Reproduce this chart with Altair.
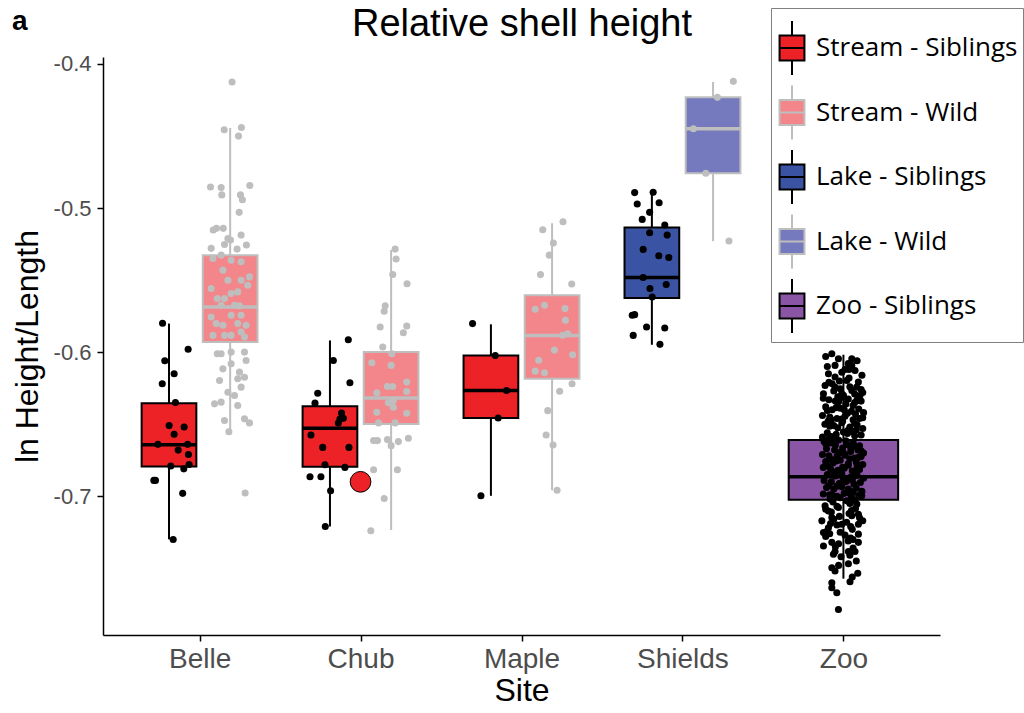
import json
import altair as alt
import pandas as pd

# ---------------- categories & styling ----------------
sites = ["Belle", "Chub", "Maple", "Shields", "Zoo"]
groups = ["Stream - Siblings", "Stream - Wild", "Lake - Siblings", "Lake - Wild", "Zoo - Siblings"]
fill_colors = ["#EC2227", "#F3868A", "#3B53A3", "#7579BD", "#8A55A5"]
edge_colors = ["#000000", "#BEBEBE", "#000000", "#BEBEBE", "#000000"]
title_text = "Relative shell height"
panel_text = "a"

# ---------------- box summaries ----------------
box_site = ["Belle", "Belle", "Chub", "Chub", "Maple", "Maple", "Shields", "Shields", "Zoo"]
box_group = ["Stream - Siblings", "Stream - Wild", "Stream - Siblings", "Stream - Wild",
             "Stream - Siblings", "Stream - Wild", "Lake - Siblings", "Lake - Wild", "Zoo - Siblings"]
box_lower = [-0.7299, -0.6545, -0.7210, -0.7234, -0.6997, -0.6958, -0.5949, -0.5230, -0.7572]
box_q1 = [-0.6793, -0.5930, -0.6795, -0.6498, -0.6457, -0.6185, -0.5624, -0.4759, -0.7025]
box_median = [-0.6642, -0.5686, -0.6528, -0.6319, -0.6267, -0.5884, -0.5482, -0.4450, -0.6865]
box_q3 = [-0.6354, -0.5327, -0.6375, -0.5999, -0.6023, -0.5605, -0.5136, -0.4232, -0.6610]
box_upper = [-0.5802, -0.4445, -0.5919, -0.5292, -0.5807, -0.5106, -0.4882, -0.4125, -0.6018]

# ---------------- individual points (value, jitter) ----------------
belle_sib_y = [-0.580, -0.598, -0.606, -0.615, -0.622, -0.635,
               -0.651, -0.652, -0.657, -0.664, -0.668, -0.664,
               -0.671, -0.679, -0.681, -0.678, -0.689, -0.689,
               -0.698, -0.730]
belle_sib_j = [-0.040, 0.119, -0.026, 0.032, -0.042, 0.040,
               0.001, 0.094, 0.032, -0.069, 0.057, 0.116,
               0.121, 0.011, 0.092, 0.125, -0.084, -0.094,
               0.085, 0.026]

belle_wild_y = [-0.4125, -0.4457, -0.4441, -0.4501, -0.4854, -0.4858,
                -0.4909, -0.4844, -0.4909, -0.4942, -0.5030, -0.5153,
                -0.5141, -0.5141, -0.5211, -0.5188, -0.5257, -0.5222,
                -0.5280, -0.5253, -0.5285, -0.5350, -0.5327, -0.5362,
                -0.5373, -0.5431, -0.5478, -0.5501, -0.5501, -0.5559,
                -0.5536, -0.5628, -0.5628, -0.5594, -0.5582, -0.5675,
                -0.5675, -0.5679, -0.5756, -0.5744, -0.5744, -0.5802,
                -0.5814, -0.5802, -0.5814, -0.5884, -0.5884, -0.5884,
                -0.5860, -0.5895, -0.6011, -0.6011, -0.6000, -0.6000,
                -0.6058, -0.6116, -0.6081, -0.6139, -0.6174, -0.6197,
                -0.6185, -0.6243, -0.6278, -0.6301, -0.6359, -0.6347,
                -0.6371, -0.6475, -0.6463, -0.6491, -0.6552, -0.6978]
belle_wild_j = [0.012, -0.037, 0.070, 0.052, -0.122, -0.056,
                -0.052, 0.122, 0.064, 0.076, 0.056, -0.105,
                -0.085, -0.043, -0.014, 0.068, 0.101, 0.002,
                -0.118, -0.035, 0.043, -0.107, -0.056, 0.006,
                0.068, -0.045, 0.120, 0.068, -0.014, -0.118,
                0.109, -0.080, -0.035, 0.006, 0.047, -0.056,
                0.027, 0.058, -0.118, 0.006, 0.068, -0.087,
                -0.045, 0.047, 0.099, -0.107, -0.035, 0.006,
                0.068, 0.089, -0.080, -0.056, 0.006, 0.089,
                0.099, -0.045, 0.006, 0.058, 0.089, -0.066,
                0.047, 0.068, -0.014, 0.027, -0.097, -0.056,
                0.047, -0.035, 0.089, 0.120, -0.008, 0.093]

chub_sib_y = [-0.5914, -0.6058, -0.6213, -0.6285, -0.6354, -0.6422,
              -0.6464, -0.6459, -0.6492, -0.6575, -0.6661, -0.6661,
              -0.6781, -0.6800, -0.6865, -0.6865, -0.6962, -0.7210]
chub_sib_j = [0.114, 0.021, 0.124, -0.076, -0.093, 0.072,
              0.062, 0.083, 0.052, -0.118, -0.045, 0.118,
              -0.031, 0.093, -0.124, -0.056, 0.004, -0.029]

chub_wild_y = [-0.5285, -0.5354, -0.5461, -0.5526, -0.5679, -0.5716,
               -0.5826, -0.5819, -0.5865, -0.5965, -0.6011, -0.6074,
               -0.6092, -0.6208, -0.6238, -0.6238, -0.6282, -0.6273,
               -0.6336, -0.6352, -0.6417, -0.6382, -0.6424, -0.6491,
               -0.6491, -0.6614, -0.6614, -0.6607, -0.6649, -0.6621,
               -0.6598, -0.6816, -0.6816, -0.7016, -0.7240]
chub_wild_j = [0.025, 0.031, 0.010, 0.099, -0.037, -0.043,
               -0.068, 0.097, 0.076, -0.052, 0.004, -0.120,
               0.000, 0.097, -0.023, 0.010, -0.089, 0.097,
               0.014, -0.017, -0.089, 0.014, 0.097, -0.078,
               0.025, -0.109, -0.085, -0.023, 0.000, 0.045,
               0.107, -0.109, 0.039, -0.043, -0.126]

maple_sib_y = [-0.5802, -0.6023, -0.6266, -0.6457, -0.6997]
maple_sib_j = [-0.114, 0.027, 0.097, 0.045, -0.062]

maple_wild_y = [-0.5095, -0.5151, -0.5243, -0.5327, -0.5462, -0.5527,
                -0.5702, -0.5675, -0.5698, -0.5779, -0.5883, -0.5872,
                -0.5986, -0.6018, -0.6057, -0.6132, -0.6143, -0.6220,
                -0.6271, -0.6406, -0.6575, -0.6645, -0.6958]
maple_wild_j = [0.068, -0.058, 0.008, -0.017, -0.072, 0.122,
                -0.105, -0.047, 0.080, 0.083, 0.066, 0.097,
                0.014, 0.128, -0.083, -0.105, -0.047, 0.124,
                0.047, -0.027, -0.037, 0.006, 0.031]

shields_sib_y = [-0.4893, -0.4891, -0.4972, -0.4963, -0.5030, -0.5079,
                 -0.5118, -0.5171, -0.5188, -0.5287, -0.5331, -0.5343,
                 -0.5482, -0.5531, -0.5559, -0.5617, -0.5744, -0.5740,
                 -0.5826, -0.5833, -0.5884, -0.5946]
shields_sib_j = [-0.107, 0.008, -0.091, 0.045, -0.014, -0.060,
                 0.080, -0.014, 0.095, -0.054, 0.043, 0.105,
                 -0.054, 0.089, -0.012, 0.002, -0.122, -0.107,
                 -0.033, 0.080, -0.116, 0.050]

shields_wild_y = [-0.4121, -0.4232, -0.4450, -0.4759, -0.5229]
shields_wild_j = [0.126, 0.027, -0.122, -0.045, 0.099]

zoo_y = [-0.6011, -0.6046, -0.6046, -0.6092, -0.6092, -0.6127,
         -0.6173, -0.6197, -0.6208, -0.6231, -0.6243, -0.6243,
         -0.6266, -0.6289, -0.6289, -0.6301, -0.6150, -0.6120,
         -0.6255, -0.6280,
         -0.6320, -0.6330, -0.6340, -0.6325, -0.6350, -0.6340,
         -0.6380, -0.6400, -0.6390, -0.6410, -0.6395, -0.6420,
         -0.6440, -0.6450, -0.6460, -0.6445, -0.6470, -0.6460,
         -0.6500, -0.6510, -0.6490, -0.6520, -0.6505, -0.6530,
         -0.6560, -0.6570, -0.6555, -0.6580, -0.6575, -0.6590,
         -0.6620, -0.6630, -0.6610, -0.6640, -0.6625, -0.6650,
         -0.6670, -0.6680, -0.6665, -0.6690, -0.6680, -0.6700,
         -0.6710, -0.6720, -0.6725, -0.6715, -0.6735, -0.6725,
         -0.6760, -0.6770, -0.6750, -0.6775, -0.6765, -0.6780,
         -0.6800, -0.6810, -0.6820, -0.6805, -0.6825, -0.6815,
         -0.6850, -0.6860, -0.6845, -0.6870, -0.6855, -0.6875,
         -0.6890, -0.6900, -0.6910, -0.6895, -0.6915, -0.6905,
         -0.6940, -0.6950, -0.6935, -0.6960, -0.6945, -0.6965,
         -0.6985, -0.6990, -0.7000, -0.6980, -0.7005, -0.6995,
         -0.7345, -0.7320, -0.7320, -0.7384, -0.7384, -0.7384,
         -0.7403, -0.7468, -0.7496, -0.7519, -0.7535, -0.7593,
         -0.7600, -0.7635, -0.7670, -0.7786, -0.7252, -0.7263,
         -0.7219, -0.7194, -0.7194, -0.7171, -0.7148, -0.7125,
         -0.7136, -0.7102, -0.7078, -0.7067, -0.7055, -0.7032,
         -0.7020, -0.6997,
         -0.7090, -0.7100, -0.7160, -0.7180, -0.7170, -0.7240,
         -0.7270, -0.7300, -0.7330,
         -0.6060, -0.6100, -0.6180, -0.6220, -0.6260, -0.6310,
         -0.6360, -0.6430, -0.6480, -0.6540, -0.6600, -0.6655,
         -0.6700, -0.6740, -0.6790, -0.6830, -0.6880, -0.6925,
         -0.6970, -0.7010, -0.7050, -0.7110, -0.7150, -0.7200,
         -0.7230, -0.7280, -0.7310, -0.7360, -0.7420, -0.7450,
         -0.6335, -0.6385, -0.6455, -0.6515, -0.6565, -0.6635,
         -0.6685, -0.6745, -0.6795, -0.6835, -0.6885, -0.6930,
         -0.6975, -0.7040, -0.7085, -0.7140, -0.7210, -0.7260,
         -0.6300, -0.6480,
         -0.6030, -0.6080, -0.6140, -0.6160, -0.6210, -0.6240,
         -0.6270, -0.6290, -0.6315, -0.6345, -0.6370, -0.6405,
         -0.6425, -0.6465, -0.6495, -0.6525, -0.6550, -0.6585,
         -0.6615, -0.6645, -0.6660, -0.6695, -0.6730, -0.6755,
         -0.6785, -0.6840, -0.6865, -0.6905, -0.6950, -0.6990,
         -0.7030, -0.7070, -0.7120, -0.7190, -0.7250, -0.7290,
         -0.7350, -0.7410, -0.7480, -0.7560, -0.6120, -0.6200,
         -0.6330, -0.6400, -0.6470, -0.6540, -0.6600, -0.6700,
         -0.6800, -0.6900]
zoo_j = [-0.072, -0.031, 0.052, 0.052, -0.052, 0.072,
         -0.052, 0.021, 0.093, -0.114, -0.052, 0.083,
         0.052, -0.124, -0.010, 0.103, -0.093, 0.010,
         -0.020, 0.120,
         -0.125, -0.090, -0.050, 0.030, 0.070, 0.110,
         -0.110, -0.070, -0.020, 0.050, 0.095, 0.125,
         -0.130, -0.085, -0.040, 0.010, 0.060, 0.100,
         -0.115, -0.060, -0.010, 0.040, 0.085, 0.120,
         -0.100, -0.045, 0.000, 0.070, 0.110, -0.130,
         -0.120, -0.080, -0.030, 0.020, 0.060, 0.100,
         -0.105, -0.055, -0.005, 0.045, 0.090, 0.125,
         -0.130, -0.090, -0.040, 0.010, 0.070, 0.110,
         -0.110, -0.065, -0.020, 0.030, 0.080, 0.120,
         -0.125, -0.080, -0.035, 0.005, 0.055, 0.100,
         -0.100, -0.050, -0.010, 0.040, 0.085, 0.125,
         -0.120, -0.075, -0.025, 0.020, 0.065, 0.105,
         -0.105, -0.060, -0.010, 0.035, 0.080, 0.115,
         -0.125, -0.085, -0.040, 0.005, 0.050, 0.095,
         -0.124, -0.072, 0.093, -0.052, 0.031, 0.072,
         -0.062, 0.031, -0.072, -0.052, 0.089, 0.041,
         -0.072, -0.072, -0.041, -0.031, -0.124, 0.093,
         -0.093, -0.010, 0.093, -0.134, -0.072, 0.093,
         0.052, -0.093, -0.031, -0.114, 0.083, 0.021,
         -0.083, 0.114,
         -0.110, 0.050, -0.060, 0.020, 0.120, -0.100,
         0.010, 0.060, -0.030,
         0.085, -0.100, 0.035, -0.070, 0.110, -0.035,
         0.015, 0.075, -0.095, 0.030, -0.060, 0.075,
         -0.015, 0.040, -0.100, 0.075, 0.000, -0.090,
         0.060, -0.020, 0.040, -0.075, 0.100, -0.040,
         0.055, -0.110, 0.030, 0.060, -0.015, 0.080,
         0.090, -0.045, 0.120, -0.085, 0.025, -0.110,
         0.110, -0.075, 0.085, -0.055, 0.055, -0.040,
         0.025, -0.065, 0.075, -0.025, 0.045, -0.085,
         0.000, -0.005,
         -0.110, 0.030, -0.010, 0.115, -0.090, 0.040,
         -0.060, 0.070, 0.000, -0.030, 0.060, -0.100,
         0.025, -0.010, 0.070, -0.035, 0.050, -0.075,
         0.015, -0.050, 0.045, -0.020, 0.095, -0.045,
         0.030, -0.060, 0.060, -0.005, 0.030, -0.070,
         0.070, -0.040, 0.035, -0.080, -0.020, 0.045,
         -0.050, 0.040, -0.030, 0.055, 0.035, -0.025,
         0.085, 0.005, -0.075, 0.080, -0.090, 0.000,
         -0.005, 0.010]

point_sets = [
    ("Belle", "Stream - Siblings", belle_sib_y, belle_sib_j),
    ("Belle", "Stream - Wild", belle_wild_y, belle_wild_j),
    ("Chub", "Stream - Siblings", chub_sib_y, chub_sib_j),
    ("Chub", "Stream - Wild", chub_wild_y, chub_wild_j),
    ("Maple", "Stream - Siblings", maple_sib_y, maple_sib_j),
    ("Maple", "Stream - Wild", maple_wild_y, maple_wild_j),
    ("Shields", "Lake - Siblings", shields_sib_y, shields_sib_j),
    ("Shields", "Lake - Wild", shields_wild_y, shields_wild_j),
    ("Zoo", "Zoo - Siblings", zoo_y, zoo_j),
]

outlier_site = ["Chub"]
outlier_value = [-0.690]

# ---------------- build tables ----------------
DODGE = 0.19
HALF_DODGED = 0.17
HALF_SINGLE = 0.34


def dodge_center(site, group):
    n = box_site.count(site)
    base = sites.index(site) + 1
    if n == 1:
        return base, HALF_SINGLE
    off = -DODGE if group.endswith("Siblings") else DODGE
    return base + off, HALF_DODGED


def edge_of(group):
    return edge_colors[groups.index(group)]


box_rows = []
for s, g, lo, q1, md, q3, hi in zip(box_site, box_group, box_lower, box_q1,
                                     box_median, box_q3, box_upper):
    c, h = dodge_center(s, g)
    box_rows.append(dict(site=s, group=g, x=c, xl=c - h, xr=c + h, lo=lo, q1=q1,
                         med=md, q3=q3, hi=hi, edge=edge_of(g)))
boxes = pd.DataFrame(box_rows)

pt_rows = []
for s, g, ys, js in point_sets:
    c, _ = dodge_center(s, g)
    col = "#000000" if g.endswith("Siblings") else "#BEBEBE"
    for y, j in zip(ys, js):
        pt_rows.append(dict(site=s, group=g, x=c + j, y=y, col=col))
points = pd.DataFrame(pt_rows)

outliers = pd.DataFrame(dict(x=[sites.index(s) + 1 for s in outlier_site], y=outlier_value))

# ---------------- scales ----------------
xscale = alt.Scale(domain=[0.4, 5.6], nice=False, zero=False)
yscale = alt.Scale(domain=[-0.7963, -0.3952], nice=False, zero=False)

label_expr = json.dumps(sites) + "[round(datum.value) - 1]"
xaxis = alt.Axis(values=[1, 2, 3, 4, 5], labelExpr=label_expr, title="Site",
                 grid=False, labelFontSize=28, titleFontSize=32, titlePadding=2,
                 labelPadding=4)
yaxis = alt.Axis(values=[-0.4, -0.5, -0.6, -0.7], labelExpr="toString(datum.value)",
                 title="ln Height/Length", grid=False, labelFontSize=22,
                 titleFontSize=32, titlePadding=9, labelPadding=6)

base_x = alt.X("x:Q", scale=xscale, axis=xaxis)

whiskers = alt.Chart(boxes).mark_rule(strokeWidth=2).encode(
    x=base_x,
    y=alt.Y("lo:Q", scale=yscale, axis=yaxis),
    y2="hi:Q",
    stroke=alt.Stroke("edge:N", scale=None),
)

# legend glyph: whisker + box + median (unit square is 30 px; glyph 54 px tall)
path = "M0,-1.8V-0.83M-0.83,-0.83H0.83V0.83H-0.83ZM-0.83,0H0.83M0,0.83V1.8"

bars = alt.Chart(boxes).mark_bar(strokeWidth=2, opacity=1).encode(
    x="xl:Q",
    x2="xr:Q",
    y="q1:Q",
    y2="q3:Q",
    fill=alt.Fill("group:N", scale=alt.Scale(domain=groups, range=fill_colors),
                  legend=alt.Legend(title=" ")),
    stroke=alt.Stroke("group:N", scale=alt.Scale(domain=groups, range=edge_colors),
                      legend=alt.Legend(title=" ")),
)

medians = alt.Chart(boxes).mark_rule(strokeWidth=3.5).encode(
    x="xl:Q",
    x2="xr:Q",
    y="med:Q",
    stroke=alt.Stroke("edge:N", scale=None),
)

dots = alt.Chart(points).mark_circle(size=50, opacity=1).encode(
    x="x:Q",
    y="y:Q",
    color=alt.Color("col:N", scale=None),
)

big = alt.Chart(outliers).mark_point(filled=True, size=430, fill="#EC2227",
                                     stroke="#000000", strokeWidth=1,
                                     opacity=1).encode(x="x:Q", y="y:Q")

panel_label = alt.Chart(pd.DataFrame({"t": [panel_text]})).mark_text(
    font="Liberation Sans", fontSize=28, fontWeight="bold", align="left",
    baseline="alphabetic", color="black"
).encode(x=alt.value(-91), y=alt.value(-27), text="t:N")

title_mark = alt.Chart(pd.DataFrame({"t": [title_text]})).mark_text(
    font="Liberation Sans", fontSize=38, align="center",
    baseline="alphabetic", color="black"
).encode(x=alt.value(419), y=alt.value(-21), text="t:N")

chart = alt.layer(whiskers, bars, medians, dots, big, panel_label, title_mark).properties(
    width=837,
    height=578,
    autosize=alt.AutoSizeParams(type="none"),
    padding={"left": 103, "top": 57, "right": 84, "bottom": 78},
).configure_view(stroke=None).configure_axis(
    domainColor="black", domainWidth=1.5, tickColor="black", tickWidth=1.5,
    tickSize=6, labelColor="#4D4D4D", labelFont="Liberation Sans",
    titleFont="Liberation Sans", titleFontWeight="normal", titleColor="black",
).configure_legend(
    orient="none", legendX=668, legendY=-49, strokeColor="#808080",
    fillColor="white", padding=5, labelFont="Open Sans", labelFontSize=26,
    labelColor="black", symbolType=path, symbolSize=900, symbolStrokeWidth=2,
    rowPadding=2.5, labelOffset=8, labelLimit=0, symbolOpacity=1,
    titleFontSize=8, titlePadding=11,
)

chart.save("out.html", embed_options={"renderer": "svg", "actions": False})
